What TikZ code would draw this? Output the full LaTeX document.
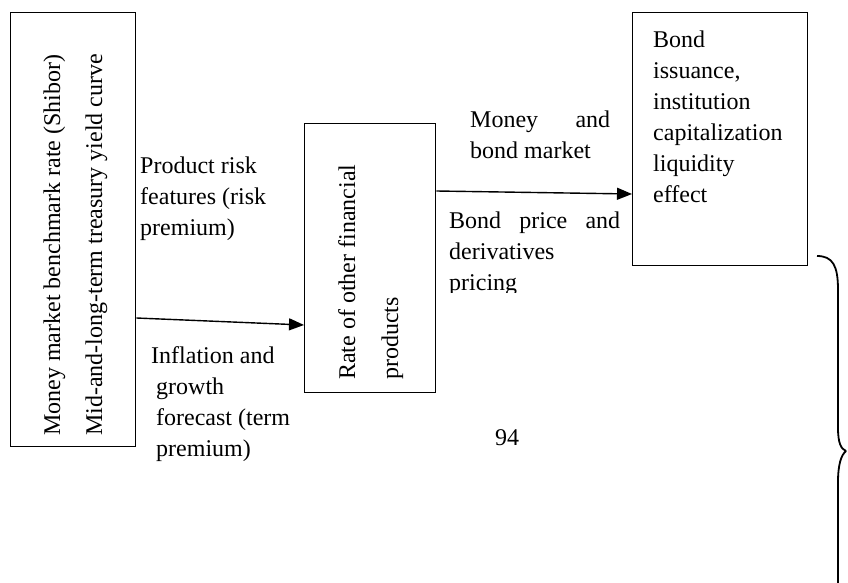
\documentclass[tikz,border=0pt]{standalone}
\usepackage{fontspec}
\setmainfont{Liberation Serif}
\usetikzlibrary{arrows.meta,calc}
\begin{document}
\begin{tikzpicture}[x=1pt,y=-1pt,
  box/.style={draw, line width=1.4pt, inner sep=0pt, anchor=north west},
  lbl/.style={inner sep=0pt, anchor=base west, font=\fontsize{24}{31}\selectfont},
  vlbl/.style={inner sep=0pt, anchor=base west, rotate=90, font=\fontsize{24}{31}\selectfont},
  arr/.style={line width=1.4pt, -{Triangle[length=15pt,width=12pt]}},
  bracepath/.style={line width=1.8pt}]
\useasboundingbox (0,0) rectangle (848,583);
% boxes
\node[box, minimum width=125pt, minimum height=434pt] (L) at (10,12) {};
\node[box, minimum width=131pt, minimum height=269pt] (M) at (304,123) {};
\node[box, minimum width=175pt, minimum height=253pt] (R) at (632,12) {};
% rotated texts
\node[vlbl] (L1) at (60,436) {Money market benchmark rate (Shibor)};
\node[vlbl] (L2) at (102,436) {Mid-and-long-term treasury yield curve};
\node[vlbl] (M1) at (355,380) {Rate of other financial};
\node[vlbl] (M2) at (398,380) {products};
% right box text
\node[lbl] (Rt) at (653,48) {\parbox[t]{150pt}{Bond\\issuance,\\institution\\capitalization\\liquidity\\effect}};
% connectors
\path (L.north east) ++(0,306) coordinate (a1s);
\path (M.north west) ++(0,202) coordinate (a1e);
\draw[arr] (a1s) -- (a1e);
\path (M.north east) ++(0,68) coordinate (a2s);
\path (R.north west) ++(0,182) coordinate (a2e);
\draw[arr] (a2s) -- (a2e);
% labels
\node[lbl] (t1) at (140,173) {\parbox[t]{140pt}{Product risk\\features (risk\\premium)}};
\node[lbl] (t2) at (151,363) {\parbox[t]{150pt}{Inflation and\\\hspace*{5pt}growth\\\hspace*{5pt}forecast (term\\\hspace*{5pt}premium)}};
\node[lbl] (t3) at (470,128) {\parbox[t]{140pt}{Money\hfill and\\bond market}};
\begin{scope}
\clip (440,200) rectangle (640,292.5);
\node[lbl] (t4) at (449,228) {\parbox[t]{171pt}{Bond\hfill price\hfill and\\derivatives\\pricing}};
\end{scope}
\node[lbl, anchor=base] (pg) at (507,445) {94};
% brace
\coordinate (b0) at (817,256);
\coordinate (btip) at (846,451);
\coordinate (bend) at (838,590);
\draw[bracepath] (b0) .. controls (833,256) and (838,266) .. (838,290) -- (838,428) .. controls (838,443) and (841,449) .. (btip);
\draw[bracepath] (btip) .. controls (841,455) and (838,465) .. (838,482) -- (bend);
\end{tikzpicture}
\end{document}
